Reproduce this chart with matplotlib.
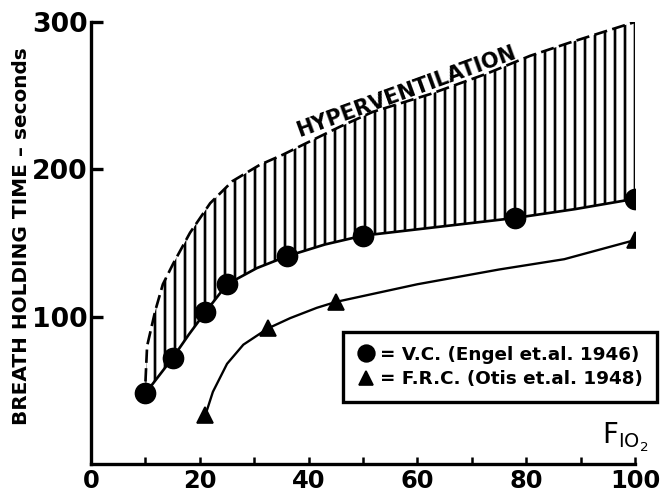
import matplotlib
matplotlib.use("Agg")
import matplotlib.pyplot as plt
from matplotlib.lines import Line2D
import numpy as np

# V.C. points (circles) and the smooth curve through them
vc_x = [10, 15, 21, 25, 36, 50, 78, 100]
vc_y = [48, 72, 103, 122, 141, 155, 167, 180]
vc_curve_x = [10, 12.5, 15, 18, 21, 25, 30.5, 36, 43, 50, 64, 78, 89, 100]
vc_curve_y = [48, 60, 72, 88, 103, 122, 133, 141, 149, 155, 161, 167, 173, 180]

# F.R.C. points (triangles) and their curve
frc_x = [21, 32.5, 45, 100]
frc_y = [33, 92, 110, 152]
frc_curve_x = [21, 22.4, 25, 28, 32.5, 36.6, 41.5, 45, 60, 75, 87, 100]
frc_curve_y = [33, 49, 68, 81, 92, 99, 106, 110, 122, 132, 139, 152]

# upper edge of the hyperventilation band
hyp_x = [10, 10.3, 11.8, 13.2, 15.1, 18.2, 21.9, 26, 31, 35.3, 40.8, 45.8, 51.8, 62.3, 72.8, 80.7, 88, 100]
hyp_y = [56, 80, 104, 122, 136, 157, 177, 192, 203, 210, 220, 229, 239, 251, 265, 277, 286, 300]

x_ticks = [0, 20, 40, 60, 80, 100]
y_ticks = [100, 200, 300]

plt.rcParams['hatch.linewidth'] = 1.6
fig = plt.figure(figsize=(5.5, 4.15), dpi=120)
ax = fig.add_axes([0.138, 1 - 464 / 498, 0.962 - 0.138, (464 - 22) / 498])

# hatched band
poly_x = np.concatenate([hyp_x, vc_curve_x[::-1]])
poly_y = np.concatenate([hyp_y, vc_curve_y[::-1]])
ax.fill(poly_x, poly_y, facecolor='none', edgecolor='black', hatch='||', linewidth=0)
ax.plot(hyp_x, hyp_y, color='black', lw=1.6, linestyle=(0, (5, 2)))
ax.plot([hyp_x[-1], hyp_x[-1]], [vc_curve_y[-1], hyp_y[-1]], color='black', lw=1.6)

ax.plot(vc_curve_x, vc_curve_y, color='black', lw=1.6)
ax.plot(vc_x, vc_y, 'o', color='black', markersize=12)
ax.plot(frc_curve_x, frc_curve_y, color='black', lw=1.4)
ax.plot(frc_x, frc_y, '^', color='black', markersize=10)

ax.text(58, 253, 'HYPERVENTILATION', rotation=20, ha='center', va='center',
        fontsize=12.5, fontweight='bold')
ax.text(94, 13.5, r'$\mathregular{F_{IO_2}}$', ha='left', va='baseline', fontsize=16.5,
        clip_on=False)

ax.set_xlim(0, 100)
ax.set_ylim(0, 300)
for s in ['top', 'right']:
    ax.spines[s].set_visible(False)
ax.spines['left'].set_linewidth(2)
ax.spines['bottom'].set_linewidth(2)
ax.spines['left'].set_bounds(0, 300)
ax.spines['bottom'].set_bounds(0, 100)

ax.set_xticks(x_ticks)
ax.set_xticks(np.arange(10, 101, 20), minor=True)
ax.set_yticks(y_ticks)
ax.tick_params(axis='x', which='both', direction='in', length=4, width=1.5, pad=3,
               labelsize=14.5)
ax.tick_params(axis='y', direction='in', length=7, width=2, pad=2, labelsize=16)
for lab in ax.get_xticklabels() + ax.get_yticklabels():
    lab.set_fontweight('bold')

fig.text(0.033, 0.526, 'BREATH HOLDING TIME \u2013 seconds', rotation=90,
         ha='center', va='center', fontsize=12, fontweight='bold')

handles = [Line2D([], [], marker='o', color='black', linestyle='none', markersize=10),
           Line2D([], [], marker='^', color='black', linestyle='none', markersize=8.5)]
labels = ['= V.C. (Engel et.al. 1946)', '= F.R.C. (Otis et.al. 1948)']
leg = ax.legend(handles, labels, loc='upper right', bbox_to_anchor=(657 / 660, 1 - 332 / 498),
                bbox_transform=fig.transFigure, borderaxespad=0, fancybox=False,
                prop={'size': 11, 'weight': 'bold'}, handletextpad=0.3, handlelength=1.0,
                labelspacing=0.35, borderpad=0.75, framealpha=1)
leg.get_frame().set_edgecolor('black')
leg.get_frame().set_linewidth(2)

fig.savefig('out.png', dpi=120)
